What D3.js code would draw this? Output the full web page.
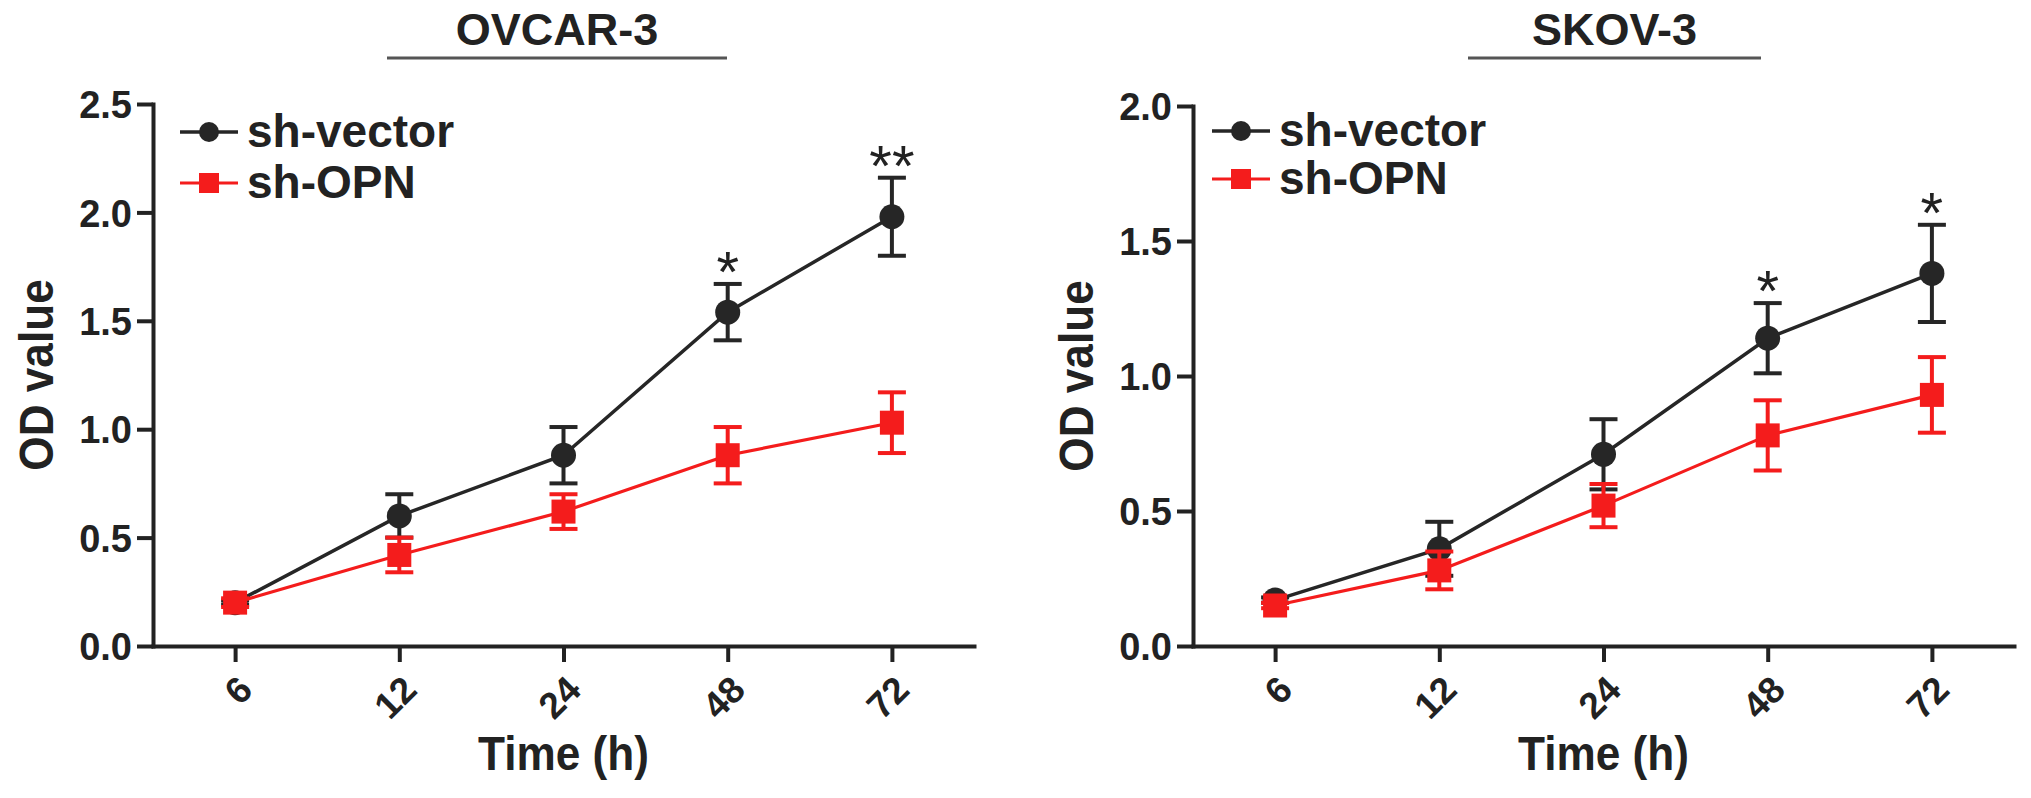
<!DOCTYPE html>
<html lang="en">
<head>
<meta charset="UTF-8">
<title>OD value</title>
<script src="https://d3js.org/d3.v7.min.js"></script>
<style>
  body { margin: 0; background: #fff; }
  svg { display: block; font-family: "Liberation Sans", Arial, Helvetica, sans-serif; font-weight: bold; }
</style>
</head>
<body>
<div id="content"></div>
<script>
// time points (h)
const times = ["6", "12", "24", "48", "72"];
const seriesNames = ["sh-vector", "sh-OPN"];

// OVCAR-3
const ovcarVector = [0.20, 0.60, 0.88, 1.54, 1.98];
const ovcarVectorErr = [0.01, 0.10, 0.13, 0.13, 0.18];
const ovcarOpn = [0.20, 0.42, 0.62, 0.88, 1.03];
const ovcarOpnErr = [0.02, 0.08, 0.08, 0.13, 0.14];
const ovcarStars = ["", "", "", "*", "**"];
const ovcarTicks = [0, 0.5, 1.0, 1.5, 2.0, 2.5];

// SKOV-3
const skovVector = [0.17, 0.36, 0.71, 1.14, 1.38];
const skovVectorErr = [0.01, 0.10, 0.13, 0.13, 0.18];
const skovOpn = [0.15, 0.28, 0.52, 0.78, 0.93];
const skovOpnErr = [0.01, 0.07, 0.08, 0.13, 0.14];
const skovStars = ["", "", "", "*", "*"];
const skovTicks = [0, 0.5, 1.0, 1.5, 2.0];

const black = "#262626", red = "#f41c1c", axisColor = "#222";

const svg = d3.select("#content")
    .append("svg")
    .attr("width", 2031)
    .attr("height", 798);

const panels = [
    { title: "OVCAR-3", x0: 153, x1: 974, yTop: 104, ticks: ovcarTicks,
      vec: ovcarVector, vecErr: ovcarVectorErr, opn: ovcarOpn, opnErr: ovcarOpnErr, stars: ovcarStars,
      line: [387, 727], legX: 180, legY: [132, 183] },
    { title: "SKOV-3", x0: 1193, x1: 2014, yTop: 106, ticks: skovTicks,
      vec: skovVector, vecErr: skovVectorErr, opn: skovOpn, opnErr: skovOpnErr, stars: skovStars,
      line: [1468, 1761], legX: 1212, legY: [131, 179] }
];

const yBottom = 646;

panels.forEach(function (p) {
    const g = svg.append("g");

    const x = d3.scalePoint()
        .domain(times)
        .range([p.x0, p.x1])
        .padding(0.5);

    const y = d3.scaleLinear()
        .domain([0, d3.max(p.ticks)])
        .range([yBottom, p.yTop]);

    // title with line
    const cx = (p.line[0] + p.line[1]) / 2;
    g.append("text")
        .attr("x", cx)
        .attr("y", 45)
        .attr("text-anchor", "middle")
        .attr("font-size", 45)
        .attr("fill", axisColor)
        .text(p.title);
    g.append("line")
        .attr("x1", p.line[0]).attr("x2", p.line[1])
        .attr("y1", 58).attr("y2", 58)
        .attr("stroke", "#555")
        .attr("stroke-width", 3);

    // axes
    const yAxis = g.append("g")
        .attr("transform", "translate(" + p.x0 + ",0)")
        .call(d3.axisLeft(y).tickValues(p.ticks).tickFormat(d3.format(".1f"))
            .tickSize(16).tickSizeOuter(0).tickPadding(5));
    yAxis.selectAll("text").attr("font-size", 38).attr("fill", axisColor)
        .attr("font-family", null).attr("dy", "0.36em");

    const xAxis = g.append("g")
        .attr("transform", "translate(0," + yBottom + ")")
        .call(d3.axisBottom(x).tickSize(16).tickSizeOuter(0));
    xAxis.selectAll("text")
        .attr("font-size", 37)
        .attr("fill", axisColor)
        .attr("font-family", null)
        .attr("text-anchor", "end")
        .attr("x", 0).attr("y", 0).attr("dy", null)
        .attr("transform", "translate(19,46) rotate(-45)");

    g.selectAll(".domain, .tick line")
        .attr("stroke", axisColor)
        .attr("stroke-width", 4)
        .attr("stroke-linecap", "square");
    g.selectAll(".tick line").attr("stroke-linecap", "butt");

    // axis titles
    g.append("text")
        .attr("transform", "translate(" + (p.x0 - 100) + "," + ((yBottom + p.yTop) / 2) + ") rotate(-90) scale(0.92,1)")
        .attr("text-anchor", "middle")
        .attr("font-size", 48)
        .attr("fill", axisColor)
        .text("OD value");
    g.append("text")
        .attr("transform", "translate(" + ((p.x0 + p.x1) / 2) + ",770) scale(0.92,1)")
        .attr("text-anchor", "middle")
        .attr("font-size", 48)
        .attr("fill", axisColor)
        .text("Time (h)");

    // series
    const series = [
        { name: seriesNames[0], vals: p.vec, err: p.vecErr, color: black, lw: 3.5, shape: "circle" },
        { name: seriesNames[1], vals: p.opn, err: p.opnErr, color: red, lw: 3.2, shape: "square" }
    ];

    const line = d3.line()
        .x(function (d, i) { return x(times[i]); })
        .y(function (d) { return y(d); });

    series.forEach(function (s) {
        const sg = g.append("g");
        sg.append("path")
            .datum(s.vals)
            .attr("d", line)
            .attr("fill", "none")
            .attr("stroke", s.color)
            .attr("stroke-width", s.lw);

        const bars = sg.selectAll(".err")
            .data(s.vals)
            .enter().append("g")
            .attr("transform", function (d, i) { return "translate(" + x(times[i]) + ",0)"; });
        bars.append("line")
            .attr("y1", function (d, i) { return y(d - s.err[i]); })
            .attr("y2", function (d, i) { return y(d + s.err[i]); })
            .attr("stroke", s.color).attr("stroke-width", 4);
        [1, -1].forEach(function (sign) {
            bars.append("line")
                .attr("x1", -14).attr("x2", 14)
                .attr("y1", function (d, i) { return y(d + sign * s.err[i]); })
                .attr("y2", function (d, i) { return y(d + sign * s.err[i]); })
                .attr("stroke", s.color).attr("stroke-width", 4);
        });

        if (s.shape === "circle") {
            bars.append("circle")
                .attr("cy", function (d) { return y(d); })
                .attr("r", 12.5)
                .attr("fill", s.color);
        } else {
            bars.append("rect")
                .attr("x", -12)
                .attr("y", function (d) { return y(d) - 12; })
                .attr("width", 24).attr("height", 24)
                .attr("fill", s.color);
        }
    });

    // significance stars
    g.selectAll(".star")
        .data(p.stars)
        .enter().append("text")
        .attr("x", function (d, i) { return x(times[i]); })
        .attr("y", function (d, i) { return y(p.vec[i] + p.vecErr[i]) + 8; })
        .attr("text-anchor", "middle")
        .attr("font-size", 58)
        .attr("font-weight", "normal")
        .attr("fill", axisColor)
        .text(function (d) { return d; });

    // legend
    series.forEach(function (s, i) {
        const ly = p.legY[i];
        const lg = g.append("g");
        lg.append("line")
            .attr("x1", p.legX).attr("x2", p.legX + 58)
            .attr("y1", ly).attr("y2", ly)
            .attr("stroke", s.color).attr("stroke-width", s.lw);
        if (s.shape === "circle") {
            lg.append("circle").attr("cx", p.legX + 29).attr("cy", ly).attr("r", 10).attr("fill", s.color);
        } else {
            lg.append("rect").attr("x", p.legX + 19).attr("y", ly - 10)
                .attr("width", 20).attr("height", 20).attr("fill", s.color);
        }
        lg.append("text")
            .attr("x", p.legX + 67)
            .attr("y", ly + 15)
            .attr("font-size", 46)
            .attr("fill", axisColor)
            .text(s.name);
    });
});
</script>
</body>
</html>
